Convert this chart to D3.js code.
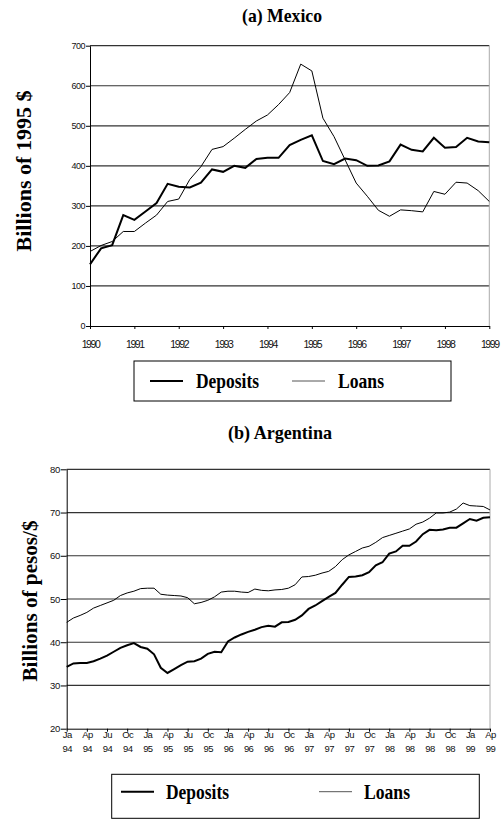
<!DOCTYPE html>
<html>
<head>
<meta charset="utf-8">
<script src="https://cdn.jsdelivr.net/npm/d3@7"></script>
<style>
  html, body { margin: 0; padding: 0; background: #fff; }
  svg { display: block; }
  .tick text { font-family: Arial, "Liberation Sans", sans-serif; fill: #111; }
  .serif { font-family: "Liberation Serif", "Times New Roman", serif; font-weight: bold; fill: #000; }
</style>
</head>
<body>
<div id="chart"></div>
<script>
// (a) Mexico - quarterly, billions of 1995 $
const mexYears = [1990, 1991, 1992, 1993, 1994, 1995, 1996, 1997, 1998, 1999];
const mexYTicks = [0, 100, 200, 300, 400, 500, 600, 700];
const mexDeposits = [154, 194, 202, 277, 265, 286, 307, 355, 348, 346,
  358, 391, 385, 400, 395, 417, 420, 420, 452, 465,
  476, 412, 404, 418, 414, 400, 401, 411, 453, 440,
  436, 470, 445, 447, 470, 461, 459];
const mexLoans = [186, 201, 211, 236, 236, 257, 277, 311, 317, 366,
  398, 441, 448, 469, 491, 512, 527, 553, 583, 654,
  637, 519, 473, 415, 357, 324, 289, 274, 290, 288,
  285, 336, 329, 359, 357, 338, 311];

// (b) Argentina - monthly, Jan 94 .. Apr 99, billions of pesos/$
const argMonths = ['Ja', 'Ap', 'Ju', 'Oc'];
const argYears = ['94', '95', '96', '97', '98', '99'];
const argYTicks = [20, 30, 40, 50, 60, 70, 80];
const argDeposits = [34.3, 35.1, 35.2, 35.2, 35.6, 36.2, 36.9, 37.8, 38.7, 39.3,
  39.8, 38.9, 38.5, 37.2, 34.1, 32.9, 33.8, 34.7, 35.5, 35.6,
  36.2, 37.3, 37.8, 37.7, 40.2, 41.1, 41.8, 42.4, 42.9, 43.5,
  43.8, 43.6, 44.6, 44.7, 45.2, 46.2, 47.7, 48.5, 49.5, 50.5,
  51.4, 53.3, 55.1, 55.2, 55.5, 56.2, 57.8, 58.5, 60.5, 61.0,
  62.3, 62.3, 63.3, 65.0, 66.0, 65.9, 66.1, 66.5, 66.5, 67.5,
  68.5, 68.1, 68.8, 68.9];
const argLoans = [44.6, 45.6, 46.2, 46.9, 47.9, 48.5, 49.1, 49.7, 50.8, 51.4,
  51.8, 52.4, 52.5, 52.5, 51.1, 50.9, 50.8, 50.7, 50.3, 48.9,
  49.2, 49.7, 50.5, 51.6, 51.8, 51.8, 51.6, 51.5, 52.3, 52.0,
  51.9, 52.1, 52.2, 52.5, 53.3, 55.1, 55.2, 55.5, 56.0, 56.4,
  57.5, 59.1, 60.2, 61.0, 61.8, 62.2, 63.1, 64.2, 64.7, 65.2,
  65.7, 66.2, 67.3, 67.8, 68.7, 69.9, 69.9, 70.1, 70.8, 72.2,
  71.6, 71.5, 71.4, 70.6];

const width = 503, height = 819;

const svg = d3.select('#chart')
  .append('svg')
  .attr('width', width)
  .attr('height', height);

// draws one panel: grid, axes, the two series, title, y label and legend
function drawPanel(cfg) {
  const x = d3.scaleLinear()
    .domain([0, cfg.deposits.length - 1])
    .range([cfg.left, cfg.right]);
  const y = d3.scaleLinear()
    .domain(d3.extent(cfg.yTicks))
    .range([cfg.bottom, cfg.top]);

  const g = svg.append('g');

  // horizontal gridlines (including the top frame line)
  g.append('g')
    .selectAll('line')
    .data(cfg.yTicks.slice(1))
    .join('line')
    .attr('x1', cfg.left)
    .attr('x2', cfg.right)
    .attr('y1', d => y(d))
    .attr('y2', d => y(d))
    .attr('stroke', '#333')
    .attr('stroke-width', 1.2);

  // right frame line
  g.append('line')
    .attr('x1', cfg.right).attr('x2', cfg.right)
    .attr('y1', cfg.top).attr('y2', cfg.bottom)
    .attr('stroke', '#aaa')
    .attr('stroke-width', 1);

  // y axis
  const yAxis = g.append('g')
    .attr('transform', `translate(${cfg.left},0)`)
    .call(d3.axisLeft(y).tickValues(cfg.yTicks).tickSize(cfg.yTickSize).tickSizeOuter(0).tickPadding(1));
  yAxis.selectAll('text')
    .attr('font-size', cfg.yTickFont)
    .attr('letter-spacing', -0.5);

  // x axis, labels may have one or two lines
  const xAxis = g.append('g')
    .attr('transform', `translate(0,${cfg.bottom})`)
    .call(d3.axisBottom(x).tickValues(cfg.xTickIndex).tickSize(3).tickSizeOuter(0).tickFormat(''));
  xAxis.selectAll('.tick text').each(function(d, i) {
    const t = d3.select(this).attr('dy', null).attr('y', 0)
      .attr('font-size', cfg.xTickFont)
      .attr('letter-spacing', cfg.xTickSpacing);
    cfg.xLabels[i].forEach((line, k) => {
      t.append('tspan')
        .attr('x', 0)
        .attr('y', cfg.xLabelY[k])
        .text(line);
    });
  });
  g.selectAll('.domain').attr('stroke', '#000');
  g.selectAll('.tick line').attr('stroke', '#000');

  // series
  const line = d3.line()
    .x((d, i) => x(i))
    .y(d => y(d));
  g.append('path')
    .datum(cfg.loans)
    .attr('fill', 'none')
    .attr('stroke', '#000')
    .attr('stroke-width', 1)
    .attr('d', line);
  g.append('path')
    .datum(cfg.deposits)
    .attr('fill', 'none')
    .attr('stroke', '#000')
    .attr('stroke-width', 2)
    .attr('d', line);

  // title
  g.append('text')
    .attr('class', 'serif')
    .attr('x', cfg.title.x)
    .attr('y', cfg.title.y)
    .attr('text-anchor', 'middle')
    .attr('font-size', 19)
    .attr('textLength', cfg.title.len)
    .attr('lengthAdjust', 'spacingAndGlyphs')
    .text(cfg.title.text);

  // y axis label
  g.append('text')
    .attr('class', 'serif')
    .attr('transform', `translate(${cfg.ylabel.x},${cfg.ylabel.y}) rotate(-90)`)
    .attr('text-anchor', 'middle')
    .attr('font-size', 22)
    .attr('textLength', 161)
    .attr('lengthAdjust', 'spacingAndGlyphs')
    .text(cfg.ylabel.text);

  // legend
  const lg = cfg.legend;
  g.append('rect')
    .attr('x', lg.x).attr('y', lg.y)
    .attr('width', lg.w).attr('height', lg.h)
    .attr('fill', 'none')
    .attr('stroke', '#000')
    .attr('stroke-width', 1);
  const items = [
    { label: 'Deposits', sw: 2, color: '#000', x0: lg.dep, len: 63 },
    { label: 'Loans', sw: 1, color: '#555', x0: lg.loan, len: 46 }
  ];
  items.forEach(it => {
    g.append('line')
      .attr('x1', it.x0).attr('x2', it.x0 + 33)
      .attr('y1', lg.lineY).attr('y2', lg.lineY)
      .attr('stroke', it.color)
      .attr('stroke-width', it.sw);
    g.append('text')
      .attr('class', 'serif')
      .attr('x', it.x0 + lg.gap)
      .attr('y', lg.textY)
      .attr('font-size', 21)
      .attr('textLength', it.len)
      .attr('lengthAdjust', 'spacingAndGlyphs')
      .text(it.label);
  });
}

// (a) Mexico
drawPanel({
  deposits: mexDeposits,
  loans: mexLoans,
  yTicks: mexYTicks,
  yTickSize: 4,
  yTickFont: 9,
  xTickFont: 10.5,
  xTickSpacing: -1.4,
  xTickIndex: mexYears.map((yr, i) => i * 4),
  xLabels: mexYears.map(yr => [String(yr)]),
  xLabelY: [22],
  left: 90, right: 489.3, top: 45.7, bottom: 326,
  title: { text: '(a) Mexico', x: 282, y: 22, len: 80 },
  ylabel: { text: 'Billions of 1995 $', x: 31, y: 171 },
  legend: { x: 134, y: 361, w: 317, h: 40, lineY: 381, textY: 388, dep: 150, loan: 292, gap: 46 }
});

// (b) Argentina
const argTickIndex = d3.range(0, argDeposits.length, 3);
drawPanel({
  deposits: argDeposits,
  loans: argLoans,
  yTicks: argYTicks,
  yTickSize: 6,
  yTickFont: 9.5,
  xTickFont: 9.5,
  xTickSpacing: -0.6,
  xTickIndex: argTickIndex,
  xLabels: argTickIndex.map((m, k) => [argMonths[k % 4], argYears[Math.floor(k / 4)]]),
  xLabelY: [9.8, 23.6],
  left: 66.7, right: 490, top: 469.3, bottom: 728.7,
  title: { text: '(b) Argentina', x: 280, y: 439, len: 104 },
  ylabel: { text: 'Billions of pesos/$', x: 36.5, y: 601 },
  legend: { x: 111.7, y: 774.3, w: 367.6, h: 44, lineY: 791.7, textY: 799, dep: 121, loan: 319, gap: 45 }
});
</script>
</body>
</html>
